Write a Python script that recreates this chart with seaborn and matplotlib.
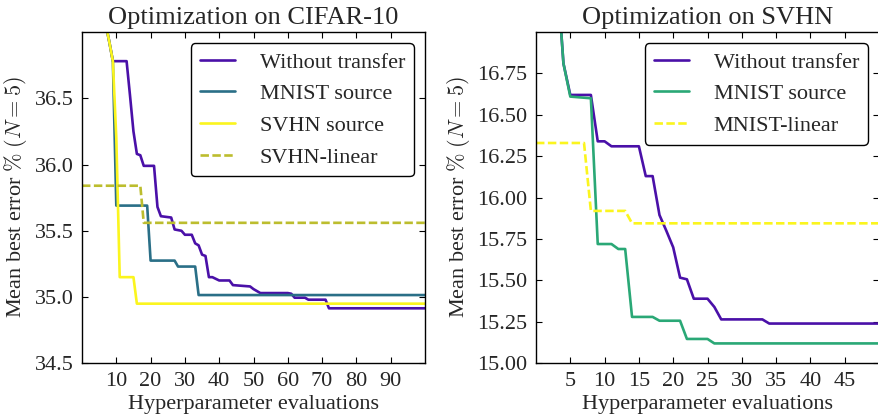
import numpy as np
import matplotlib
matplotlib.use('Agg')
import matplotlib.pyplot as plt
import seaborn as sns
from matplotlib.ticker import FormatStrFormatter

# CIFAR-10 panel, values read at evaluation counts (knots of the step curves)
cifar_start_x = [1, 2, 3, 4, 5, 6, 7, 8, 9]
cifar_start_y = [40.5, 39.8, 39.2, 38.6, 38.1, 37.5, 37.05, 36.92, 36.78]

cifar_none_x = [13, 14, 15, 16, 17, 18, 21, 22, 23, 26, 27, 29, 30, 32, 33, 34, 35, 36, 37,
                38, 40, 43, 44, 49, 50, 52, 60, 61, 62, 65, 66, 71, 72, 100]
cifar_none_y = [36.78, 36.52, 36.25, 36.08, 36.07, 35.99, 35.99, 35.68, 35.61, 35.60, 35.51,
                35.50, 35.47, 35.47, 35.405, 35.39, 35.32, 35.31, 35.15, 35.15, 35.125, 35.125,
                35.09, 35.08, 35.06, 35.03, 35.03, 35.025, 34.995, 34.995, 34.98, 34.98,
                34.915, 34.915]

cifar_mnist_x = [10, 19, 20, 27, 28, 33, 34, 100]
cifar_mnist_y = [35.69, 35.69, 35.275, 35.275, 35.23, 35.23, 35.015, 35.015]

cifar_svhn_x = [10, 11, 15, 16, 100]
cifar_svhn_y = [36.2, 35.15, 35.15, 34.95, 34.95]

cifar_lin_x = [0, 17, 18, 100]
cifar_lin_y = [35.84, 35.84, 35.56, 35.56]

# SVHN panel
svhn_start_x = [1, 2, 3, 4]
svhn_start_y = [18.6, 18.0, 17.4, 16.81]

svhn_none_x = [5, 8, 9, 10, 11, 15, 16, 17, 18, 19, 20, 21, 22, 23, 25, 26, 27, 33, 34, 50]
svhn_none_y = [16.62, 16.62, 16.34, 16.34, 16.31, 16.31, 16.13, 16.13, 15.895, 15.80, 15.70,
               15.517, 15.507, 15.39, 15.39, 15.34, 15.265, 15.265, 15.24, 15.24]

svhn_mnist_x = [5, 8, 9, 11, 12, 13, 14, 17, 18, 21, 22, 25, 26, 50]
svhn_mnist_y = [16.61, 16.60, 15.72, 15.72, 15.69, 15.69, 15.28, 15.28, 15.257, 15.257,
                15.147, 15.147, 15.12, 15.12]

svhn_lin_x = [0, 7, 8, 13, 14, 50]
svhn_lin_y = [16.33, 16.33, 15.92, 15.92, 15.845, 15.845]

c_none = '#4a10a8'
c_teal = '#2a6f87'
c_yellow = '#fbf51e'
c_olive = '#bcbd2e'
c_green = '#2aa876'

sns.set_style('ticks')
plt.rcParams['font.family'] = ['Liberation Serif', 'DejaVu Serif']
plt.rcParams['mathtext.fontset'] = 'cm'
plt.rcParams['font.size'] = 16

fig = plt.figure(figsize=(8.79, 4.19), dpi=100)
ax1 = fig.add_axes([82 / 879, 1 - 363.3 / 419, 343 / 879, 331.3 / 419])
ax2 = fig.add_axes([536 / 879, 1 - 363.3 / 419, 343 / 879, 331.3 / 419])

lw = 1.9
dash = (3.2, 1.3)
sns.lineplot(x=cifar_start_x + cifar_none_x, y=cifar_start_y + cifar_none_y, ax=ax1,
             color=c_none, lw=lw, label='Without transfer')
sns.lineplot(x=cifar_start_x + cifar_mnist_x, y=cifar_start_y + cifar_mnist_y, ax=ax1,
             color=c_teal, lw=lw, label='MNIST source')
sns.lineplot(x=cifar_start_x + cifar_svhn_x, y=cifar_start_y + cifar_svhn_y, ax=ax1,
             color=c_yellow, lw=lw, label='SVHN source')
sns.lineplot(x=cifar_lin_x, y=cifar_lin_y, ax=ax1, color=c_olive, lw=lw,
             dashes=dash, label='SVHN-linear')

sns.lineplot(x=svhn_start_x + svhn_none_x, y=svhn_start_y + svhn_none_y, ax=ax2,
             color=c_none, lw=lw, label='Without transfer')
sns.lineplot(x=svhn_start_x + svhn_mnist_x, y=svhn_start_y + svhn_mnist_y, ax=ax2,
             color=c_green, lw=lw, label='MNIST source')
sns.lineplot(x=svhn_lin_x, y=svhn_lin_y, ax=ax2, color=c_yellow, lw=lw,
             dashes=dash, label='MNIST-linear')

ax1.set_xlim(0, 100)
ax1.set_ylim(34.5, 37.0)
ax1.set_xticks(np.arange(10, 100, 10))
ax1.set_yticks([34.5, 35.0, 35.5, 36.0, 36.5])
ax1.yaxis.set_major_formatter(FormatStrFormatter('%.1f'))
ax1.set_title('Optimization on CIFAR-10', fontsize=19)

ax2.set_xlim(0, 50)
ax2.set_ylim(15.0, 17.0)
ax2.set_xticks(np.arange(5, 50, 5))
ax2.set_yticks(np.arange(15.0, 16.8, 0.25))
ax2.yaxis.set_major_formatter(FormatStrFormatter('%.2f'))
ax2.set_title('Optimization on SVHN', fontsize=19)

for ax in (ax1, ax2):
    ax.set_xlabel('Hyperparameter evaluations', fontsize=16, labelpad=3)
    ax.set_ylabel('Mean best error $\\%$ $(N=5)$', fontsize=16)
    ax.tick_params(direction='in', top=True, right=True, length=4.5, width=0.8,
                   labelsize=16, pad=6, color='black')
    for s in ax.spines.values():
        s.set_color('black')
        s.set_linewidth(1.0)
    leg = ax.legend(loc='upper right', fancybox=True, framealpha=1, edgecolor='black',
                    fontsize=16, handlelength=1.6, handletextpad=1.1, borderaxespad=0.5)
    leg.get_frame().set_linewidth(1.0)

fig.savefig('out.png', dpi=100)
